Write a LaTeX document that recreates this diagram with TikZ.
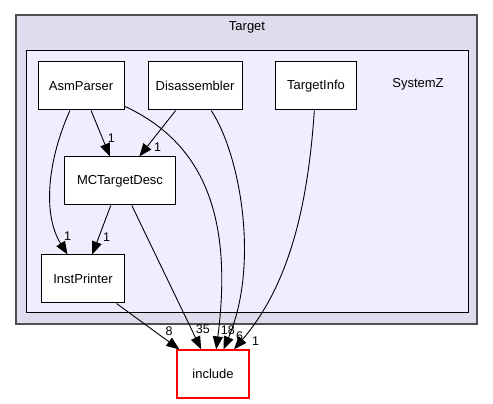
\documentclass[tikz,border=0pt]{standalone}
\usepackage{fontspec}
\setmainfont{Liberation Sans}
\usetikzlibrary{arrows.meta}
\definecolor{targetfill}{HTML}{DDDDEE}
\definecolor{systemzfill}{HTML}{EEEEFF}
\definecolor{clusterline}{HTML}{505050}
\definecolor{incline}{HTML}{FF0000}

\begin{document}
\begin{tikzpicture}[x=1pt,y=1pt,>={Triangle[length=13pt,width=10pt]},
    dirbox/.style={draw,fill=white,line width=1pt,minimum height=48pt,inner sep=0pt,
                   font=\fontsize{13}{15}\selectfont},
    incbox/.style={dirbox,color=incline,fill=white,text=black,line width=1.2pt},
    cluster/.style={font=\fontsize{13}{15}\selectfont},
    lbl/.style={font=\fontsize{12.5}{14}\selectfont,inner sep=1pt},
    dep/.style={->,line width=0.9pt}]

  \useasboundingbox (0,0) rectangle (493,404);

  % clusters
  \draw[fill=targetfill,draw=clusterline,line width=1.2pt] (16,80) rectangle (477,389);
  \node[cluster] (target) at (247,377) {Target};
  \draw[fill=systemzfill,line width=1pt] (26,91) rectangle (468,353);
  \node[cluster] (systemz) at (418,320) {SystemZ};

  % directories
  \node[dirbox,minimum width=86pt]  (asm)  at (81,318)  {AsmParser};
  \node[dirbox,minimum width=94pt]  (dis)  at (195,318) {Disassembler};
  \node[dirbox,minimum width=81pt]  (ti)   at (316,318) {TargetInfo};
  \node[dirbox,minimum width=111pt] (mct)  at (120,223) {MCTargetDesc};
  \node[dirbox,minimum width=83pt]  (inst) at (83,125)  {InstPrinter};
  \node[incbox,minimum width=72pt]  (inc)  at (213,30)  {include};

  % dependencies
  \path[dep] (asm) edge node[lbl,pos=0.6,right=4pt] {1} (mct)
             (dis) edge node[lbl,pos=0.8,right=6pt] {1} (mct)
             (mct) edge node[lbl,pos=0.65,right=3pt] {1} (inst)
                   edge node[lbl,pos=0.86,right=3pt] {35} (inc)
             (inst) edge node[lbl,pos=0.6,right=10pt] {8} (inc);

  \draw[dep] (asm) .. controls (48,245) and (42,190) .. node[lbl,pos=0.86,right=4pt] {1} (inst);
  \draw[dep] (asm) .. controls (195,265) and (235,200) .. node[lbl,pos=0.955,right=1pt] {18} (inc);
  \draw[dep] (dis) .. controls (240,250) and (260,140) .. node[lbl,pos=0.95,right=6pt] {6} (inc);
  \draw[dep] (ti) .. controls (308,200) and (290,120) .. node[lbl,pos=0.96,right=10pt] {1} (inc);
\end{tikzpicture}
\end{document}
